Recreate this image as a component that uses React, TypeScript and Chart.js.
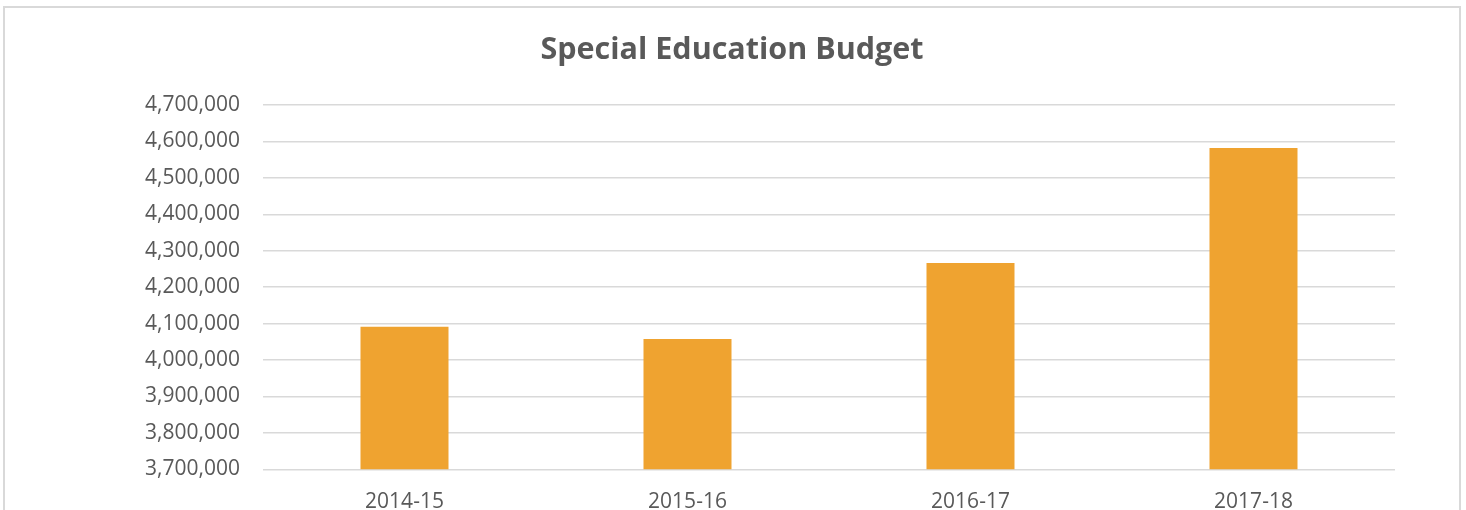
import React, { useEffect, useRef } from "react";
import { Chart, registerables } from "chart.js";

Chart.register(...registerables);

const title = "Special Education Budget";
const categories = ["2014-15", "2015-16", "2016-17", "2017-18"];
const budget = [4091000, 4058000, 4266000, 4582000];
const yMin = 3700000;
const yMax = 4700000;
const yStep = 100000;

const textColor = "#595959";
const barColor = "#EFA330";
const gridColor = "#D9D9D9";
const fontFamily = "'Open Sans', 'DejaVu Sans', sans-serif";

const titlePlugin = {
  id: "customTitle",
  afterDraw(chart: any) {
    const ctx = chart.ctx;
    ctx.save();
    ctx.font = `bold 30.5px ${fontFamily}`;
    ctx.fillStyle = textColor;
    ctx.textAlign = "center";
    ctx.textBaseline = "alphabetic";
    ctx.fillText(title, 732, 59);
    ctx.restore();
  },
};

export default function App() {
  const canvasRef = useRef<HTMLCanvasElement | null>(null);

  useEffect(() => {
    if (!canvasRef.current) return;
    const chart = new Chart(canvasRef.current, {
      type: "bar",
      data: {
        labels: categories,
        datasets: [
          {
            label: "Budget",
            data: budget,
            backgroundColor: barColor,
            borderWidth: 0,
            categoryPercentage: 1,
            barPercentage: 0.311,
          },
        ],
      },
      options: {
        responsive: false,
        animation: false,
        layout: { padding: { left: 0, right: 71, top: 105, bottom: 0 } },
        plugins: {
          legend: { display: false },
          title: { display: false },
          tooltip: { enabled: false },
        },
        scales: {
          x: {
            grid: { display: false, drawTicks: false },
            border: { display: false },
            ticks: {
              color: textColor,
              font: { family: fontFamily, size: 21 },
              padding: 20,
              maxRotation: 0,
            },
            afterFit(scale: any) {
              scale.height = 40.7;
            },
          },
          y: {
            min: yMin,
            max: yMax,
            grid: { color: gridColor, lineWidth: 1.5, drawTicks: false },
            border: { display: false },
            ticks: {
              stepSize: yStep,
              color: textColor,
              font: { family: fontFamily, size: 21 },
              padding: 23,
              callback: (v: any) => Number(v).toLocaleString("en-US"),
            },
            afterFit(scale: any) {
              scale.width = 263;
            },
          },
        },
      },
      plugins: [titlePlugin],
    });
    return () => chart.destroy();
  }, []);

  return (
    <div
      style={{
        position: "fixed",
        left: 0,
        top: 0,
        width: 1466,
        height: 510,
        background: "#ffffff",
        overflow: "hidden",
      }}
    >
      <div
        style={{
          position: "absolute",
          left: 3,
          top: 6,
          width: 1454,
          height: 540,
          border: "2px solid #D9D9D9",
        }}
      />
      <canvas
        ref={canvasRef}
        width={1466}
        height={510}
        style={{ position: "absolute", left: 0, top: 0 }}
      />
    </div>
  );
}
